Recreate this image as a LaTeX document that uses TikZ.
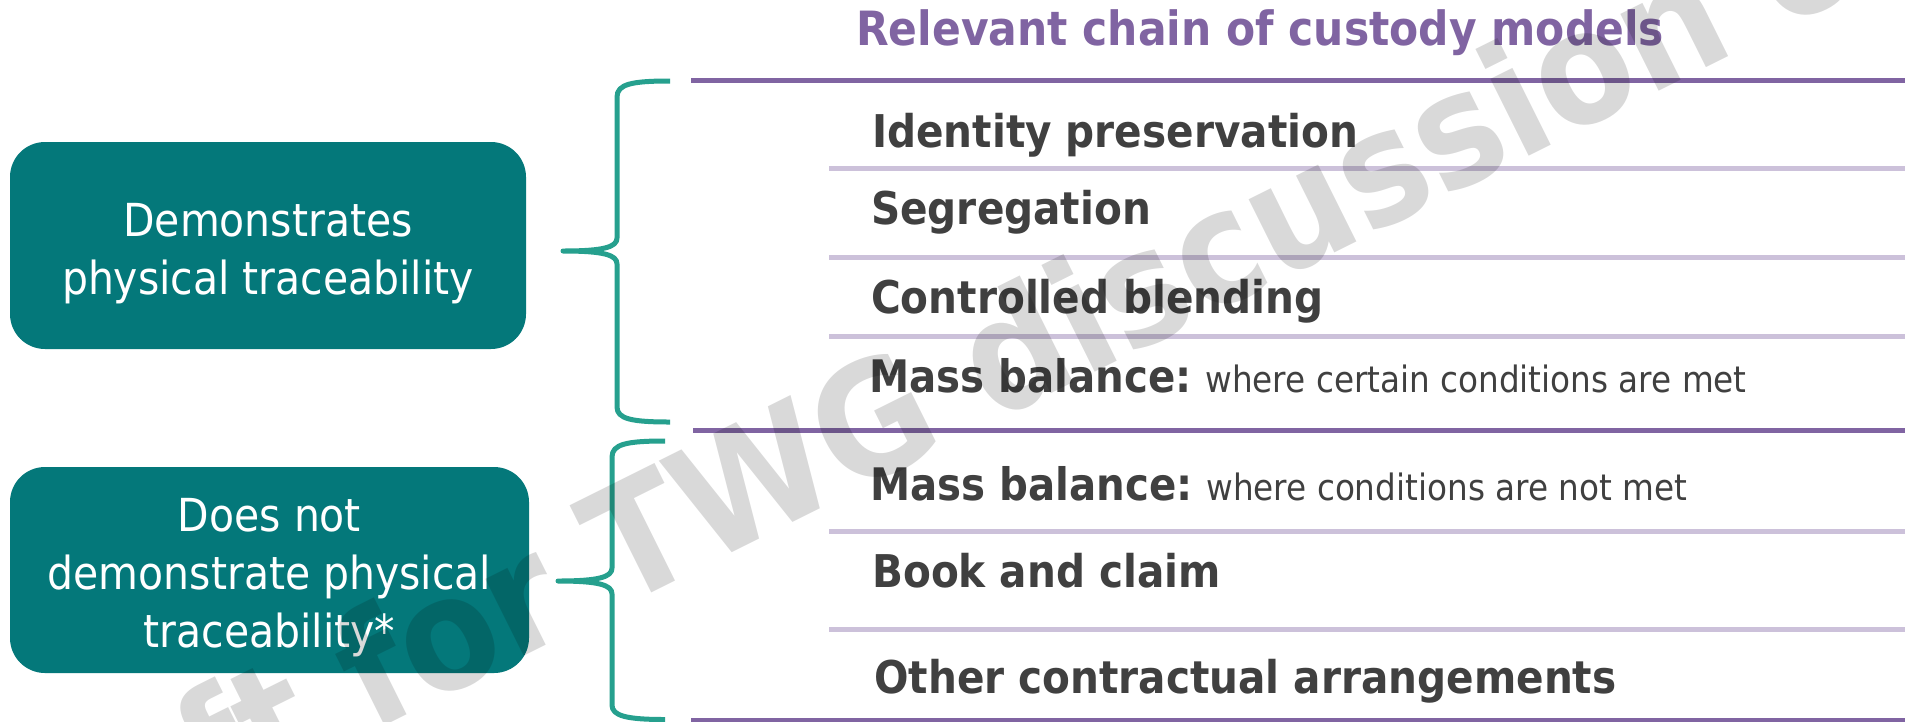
\documentclass[tikz,border=0pt]{standalone}
\usepackage{fontspec}
\setmainfont{DejaVuSansCondensed}[Extension=.ttf, BoldFont=DejaVuSansCondensed-Bold]
\definecolor{boxteal}{HTML}{04787A}
\definecolor{braceteal}{HTML}{26A08E}
\definecolor{darkpurple}{HTML}{8064A2}
\definecolor{lightpurple}{HTML}{CCC1DA}
\definecolor{itemgray}{HTML}{404040}
\newcommand{\myNoteFont}{\mdseries\fontsize{36.3}{44}\selectfont}
\tikzset{
  tbox/.style={fill=boxteal, rounded corners=35pt, inner sep=0pt},
  boxtext/.style={text=white, align=center, inner sep=0pt, font=\fontsize{45.5}{58}\selectfont},
  item/.style={anchor=base west, inner sep=0pt, text=itemgray, font=\bfseries\fontsize{45.1}{58}\selectfont},
  mbitem/.style={anchor=base west, inner sep=0pt, text=itemgray, font=\bfseries\fontsize{44.8}{58}\selectfont},
  titletext/.style={anchor=base west, inner sep=0pt, text=darkpurple, font=\bfseries\fontsize{47.2}{60}\selectfont},
  darkrule/.style={draw=darkpurple, line width=5pt},
  lightrule/.style={draw=lightpurple, line width=5pt},
  bracepath/.style={draw=braceteal, line width=5pt, line join=round},
  watermark/.style={anchor=base west, inner sep=0pt, rotate=26.5, text=black, text opacity=0.15,
    font=\bfseries\fontsize{157}{157}\selectfont}
}
\begin{document}
\begin{tikzpicture}[x=1pt,y=-1pt]
\useasboundingbox (0,0) rectangle (1905,721);
\fill[white] (0,0) rectangle (1905,721);

% title
\node[titletext] (title) at (856,45) {Relevant chain of custody models};

% rules
\coordinate (r0) at (691,80.5);
\coordinate (r1) at (829,168.5);
\coordinate (r2) at (829,257.5);
\coordinate (r3) at (829,336.5);
\coordinate (r4) at (693,430.5);
\coordinate (r5) at (829,531.5);
\coordinate (r6) at (829,629.5);
\coordinate (r7) at (691,720.5);
\draw[darkrule] (r0) -- (1905,80.5);
\draw[lightrule] (r1) -- (1905,168.5);
\draw[lightrule] (r2) -- (1905,257.5);
\draw[lightrule] (r3) -- (1905,336.5);
\draw[darkrule] (r4) -- (1905,430.5);
\draw[lightrule] (r5) -- (1905,531.5);
\draw[lightrule] (r6) -- (1905,629.5);
\draw[darkrule] (r7) -- (1905,720.5);

% items
\node[item] (i1) at (872,147) {Identity preservation};
\node[item] (i2) at (871,224) {Segregation};
\node[item] (i3) at (871,313) {Controlled blending};
\node[mbitem] (i4) at (869,392) {Mass balance:{\myNoteFont{} where certain conditions are met}};
\node[mbitem] (i5) at (870,500) {Mass balance:{\myNoteFont{} where conditions are not met}};
\node[item] (i6) at (872,587) {Book and claim};
\node[item] (i7) at (874,693) {Other contractual arrangements};

% boxes
\node[tbox, minimum width=516pt, minimum height=207pt] (box1) at (268,245.5) {};
\node[tbox, minimum width=519pt, minimum height=206pt] (box2) at (269.5,570) {};
\node[boxtext] (t1) at (268,254) {Demonstrates\\physical traceability};
\node[boxtext] (t2) at (269.5,578) {Does not\\demonstrate physical\\traceability*};

% braces
\coordinate (b1top) at (670,81);
\coordinate (b1tip) at (563,251);
\coordinate (b1bot) at (670,422);
\draw[bracepath] (b1top) .. controls (632,81) and (617,84) .. (617,97)
  -- (617,238) .. controls (617,247) and (604,251) .. (b1tip)
  .. controls (604,251) and (617,255) .. (617,264)
  -- (617,407) .. controls (617,419) and (632,422) .. (b1bot);
\coordinate (b2top) at (665,441);
\coordinate (b2tip) at (558,581);
\coordinate (b2bot) at (665,719.5);
\draw[bracepath] (b2top) .. controls (627,441) and (612,444) .. (612,457)
  -- (612,568) .. controls (612,577) and (599,581) .. (b2tip)
  .. controls (599,581) and (612,585) .. (612,594)
  -- (612,705) .. controls (612,716) and (627,719.5) .. (b2bot);

% watermark
\begin{scope}
\clip (0,0) rectangle (1905,721);
\node[watermark] (wm) at (-40,938) {Draft for TWG discussion only};
\end{scope}
\end{tikzpicture}
\end{document}
